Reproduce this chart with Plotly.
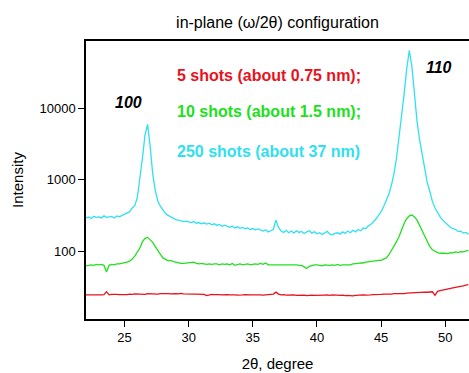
import math
import plotly.graph_objects as go

two_theta = [
    22.0, 22.2, 22.4, 22.6, 22.8, 23.0, 23.2, 23.4, 23.6, 23.8,
    24.0, 24.2, 24.4, 24.6, 24.8, 25.0, 25.2, 25.4, 25.6, 25.8,
    26.0, 26.2, 26.4, 26.6, 26.8, 27.0, 27.2, 27.4, 27.6, 27.8,
    28.0, 28.2, 28.4, 28.6, 28.8, 29.0, 29.2, 29.4, 29.6, 29.8,
    30.0, 30.2, 30.4, 30.6, 30.8, 31.0, 31.2, 31.4, 31.6, 31.8,
    32.0, 32.2, 32.4, 32.6, 32.8, 33.0, 33.2, 33.4, 33.6, 33.8,
    34.0, 34.2, 34.4, 34.6, 34.8, 35.0, 35.2, 35.4, 35.6, 35.8,
    36.0, 36.2, 36.4, 36.6, 36.8, 37.0, 37.2, 37.4, 37.6, 37.8,
    38.0, 38.2, 38.4, 38.6, 38.8, 39.0, 39.2, 39.4, 39.6, 39.8,
    40.0, 40.2, 40.4, 40.6, 40.8, 41.0, 41.2, 41.4, 41.6, 41.8,
    42.0, 42.2, 42.4, 42.6, 42.8, 43.0, 43.2, 43.4, 43.6, 43.8,
    44.0, 44.2, 44.4, 44.6, 44.8, 45.0, 45.2, 45.4, 45.6, 45.8,
    46.0, 46.2, 46.4, 46.6, 46.8, 47.0, 47.2, 47.4, 47.6, 47.8,
    48.0, 48.2, 48.4, 48.6, 48.8, 49.0, 49.2, 49.4, 49.6, 49.8,
    50.0, 50.2, 50.4, 50.6, 50.8, 51.0, 51.2, 51.4, 51.6, 51.8,
]

shots_5 = [
    24.3, 24.2, 24.3, 24.4, 24.2, 24.3, 24.4, 24.5, 27.0, 24.4,
    24.8, 24.5, 24.7, 24.6, 24.4, 24.8, 24.6, 25.0, 24.7, 25.1,
    24.9, 25.2, 25.0, 24.8, 25.3, 25.1, 25.4, 25.2, 25.0, 25.3,
    25.5, 25.2, 25.3, 25.1, 25.4, 25.3, 25.1, 25.5, 25.2, 25.0,
    25.3, 25.1, 24.9, 25.0, 24.8, 25.0, 24.7, 23.8, 24.6, 24.8,
    24.5, 24.8, 24.6, 24.4, 24.7, 24.5, 24.3, 24.6, 24.4, 24.2,
    24.5, 24.3, 24.5, 24.2, 24.4, 24.3, 24.5, 24.3, 24.4, 24.2,
    24.5, 24.3, 24.6, 25.0, 26.6, 25.0, 24.4, 24.6, 24.2, 24.4,
    24.1, 24.3, 24.0, 24.2, 23.9, 24.1, 23.7, 24.0, 24.2, 23.9,
    24.1, 23.8, 24.0, 24.2, 24.3, 24.0, 24.4, 24.1, 24.3, 24.0,
    24.2, 23.8, 24.0, 23.7, 23.6, 23.9, 24.1, 24.0, 24.3, 24.1,
    24.5, 24.3, 24.6, 24.5, 24.8, 24.7, 25.0, 24.9, 25.2, 25.0,
    25.3, 25.2, 25.4, 25.6, 25.4, 25.7, 25.9, 26.0, 26.2, 26.1,
    26.4, 26.3, 26.6, 26.5, 26.8, 26.9, 24.0, 27.3, 28.0, 28.6,
    29.0, 29.6, 30.0, 30.4, 30.9, 31.3, 31.8, 32.6, 33.4, 33.8,
]

shots_10 = [
    62, 63, 64, 63, 65, 64, 65, 63, 51, 63,
    65, 64, 66, 66, 67, 68, 70, 72, 77, 85,
    98, 110, 135, 150, 155, 145, 132, 115, 100, 90,
    80, 76, 73, 74, 71, 70, 68, 67, 67, 68,
    68, 70, 70, 67, 66, 67, 66, 65, 66, 65,
    66, 66, 64, 66, 65, 66, 64, 67, 63, 65,
    66, 64, 65, 66, 64, 65, 66, 65, 67, 65,
    68, 64, 64, 64, 64, 65, 64, 64, 64, 64,
    65, 64, 64, 63, 63, 60, 57, 61, 63, 64,
    64, 63, 62, 64, 63, 63, 64, 63, 65, 63,
    64, 64, 65, 64, 66, 66, 67, 68, 68, 70,
    71, 72, 72, 73, 74, 74, 76, 80, 88, 100,
    115, 135, 160, 200, 245, 285, 310, 318, 300, 270,
    230, 195, 160, 135, 115, 104, 98, 95, 93, 94,
    93, 92, 95, 94, 97, 95, 98, 97, 100, 102,
]

shots_250 = [
    290, 300, 285, 305, 295, 300, 290, 310, 295, 300,
    305, 290, 310, 300, 315, 325, 340, 355, 400, 430,
    560, 1000, 2000, 4200, 5900, 2900, 1200, 700, 500, 420,
    380, 335, 315, 300, 290, 275, 270, 262, 258, 262,
    255, 250, 258, 245, 250, 240, 248, 238, 245, 232,
    240, 228, 235, 222, 230, 225, 215, 222, 210, 218,
    208, 214, 205, 210, 200, 206, 198, 204, 196, 190,
    198, 185, 192, 200, 270, 215, 190, 182, 195, 180,
    190, 178, 192, 182, 188, 176, 185, 192, 178, 186,
    174, 180, 170, 178, 188, 172, 168, 176, 180, 172,
    185, 176, 190, 180, 195, 185, 200, 192, 210, 205,
    225, 235, 255, 280, 315, 355, 420, 510, 620, 830,
    1200, 2000, 3800, 7800, 16000, 36000, 64000, 38000, 15000, 6500,
    3600, 2200, 1400, 900, 680, 490, 400, 345, 300, 270,
    250, 235, 215, 205, 200, 188, 190, 178, 182, 172,
]

series_names = ["5 shots (about 0.75 nm);", "10 shots (about 1.5 nm);", "250 shots (about 37 nm)"]
series_colors = ["#e8121c", "#20e020", "#30e0f0"]
x_ticks = [25, 30, 35, 40, 45, 50]
y_ticks = [100, 1000, 10000]
y_tick_text = ["100", "1000", "10000"]
peak_labels = ["100", "110"]
peak_pos_x = [25.3, 49.55]
peak_pos_y = [12100, 37400]

FONT = "Liberation Sans, Arial, sans-serif"

fig = go.Figure()
for name, ys, col in zip(series_names, [shots_5, shots_10, shots_250], series_colors):
    fig.add_trace(go.Scatter(x=two_theta, y=ys, mode="lines", name=name,
                             line=dict(color=col, width=1.3), showlegend=False))

# legend-like coloured text labels
legend_y = [0.875, 0.745, 0.604]
for name, col, yy in zip(series_names, series_colors, legend_y):
    fig.add_annotation(x=(175 - 86) / 383, y=yy, xref="paper", yref="paper",
                       text="<b>" + name + "</b>", showarrow=False,
                       xanchor="left", yanchor="middle",
                       font=dict(family=FONT, size=16, color=col))

for lab, px, py in zip(peak_labels, peak_pos_x, peak_pos_y):
    fig.add_annotation(x=px, y=math.log10(py), xref="x", yref="y",
                       text="<b><i>" + lab + "</i></b>",
                       showarrow=False, xanchor="center", yanchor="middle",
                       font=dict(family=FONT, size=16, color="black"))

fig.update_layout(
    width=469, height=373,
    margin=dict(l=86, r=0, t=41, b=54, autoexpand=False),
    paper_bgcolor="white", plot_bgcolor="white",
    title=dict(text="in-plane (\u03c9/2\u03b8) configuration", x=0.5, xref="paper",
               y=1 - 22 / 373, yanchor="middle", xanchor="center",
               font=dict(family=FONT, size=16, color="black")),
    font=dict(family=FONT, size=13, color="black"),
)
fig.update_xaxes(range=[22, 51.85], tickvals=x_ticks, ticks="outside", ticklen=6,
                 tickwidth=1, tickcolor="black", showline=True, linecolor="black",
                 linewidth=1.5, mirror=True, showgrid=False, zeroline=False,
                 title=dict(text="2\u03b8, degree", font=dict(family=FONT, size=15), standoff=14),
                 tickfont=dict(family=FONT, size=13))
fig.update_yaxes(type="log", range=[1.049, 4.937], tickvals=y_ticks, ticktext=y_tick_text,
                 ticks="outside", ticklen=6, tickwidth=1, tickcolor="black",
                 showline=True, linecolor="black", linewidth=1.5, mirror=False,
                 showgrid=False, zeroline=False,
                 title=dict(text="Intensity", font=dict(family=FONT, size=15), standoff=12),
                 tickfont=dict(family=FONT, size=13))

fig.write_html("out.html", config={"displayModeBar": False},
               post_script="document.body.style.margin='0';document.body.style.overflow='hidden';")
